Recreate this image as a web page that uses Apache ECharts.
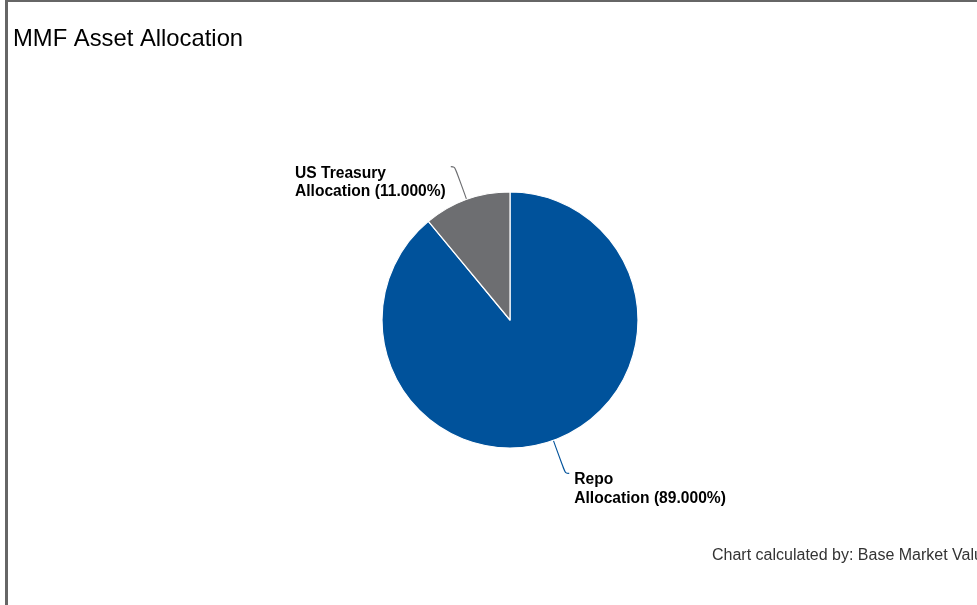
<!DOCTYPE html>
<html>
<head>
<meta charset="utf-8">
<script src="https://cdn.jsdelivr.net/npm/echarts@6/dist/echarts.min.js"></script>
<style>
  html, body { margin: 0; padding: 0; width: 977px; height: 605px; overflow: hidden; background: #fff; }
  #frame { position: absolute; left: 5px; top: 0; width: 1200px; height: 800px; border-left: 3px solid #666; border-top: 2px solid #666; box-sizing: border-box; }
  #chart { position: absolute; left: 0; top: 0; width: 977px; height: 605px; }
</style>
</head>
<body>
<div id="frame"></div>
<div id="chart"></div>
<script>
const titleText = 'MMF Asset Allocation';
const footerText = 'Chart calculated by: Base Market Value';
const categories = ['Repo Allocation', 'US Treasury Allocation'];
const values = [89.0, 11.0];
const colors = ['#00529b', '#6d6e71'];

const chart = echarts.init(document.getElementById('chart'), null, { renderer: 'canvas' });
const font = 'Arial, "Liberation Sans", Helvetica, sans-serif';

chart.setOption({
  animation: false,
  backgroundColor: 'transparent',
  title: {
    text: titleText,
    left: 8,
    top: 22,
    textStyle: { fontFamily: font, fontSize: 23.8, fontWeight: 'normal', color: '#000' }
  },
  graphic: [{
    type: 'text',
    left: 712,
    top: 548,
    style: { text: footerText, fontFamily: font, fontSize: 16, fill: '#333' }
  }],
  series: [{
    type: 'pie',
    center: [510, 320],
    radius: 128,
    startAngle: 90,
    clockwise: true,
    avoidLabelOverlap: false,
    itemStyle: { borderColor: '#fff', borderWidth: 1.2 },
    label: {
      show: true,
      position: 'outside',
      fontFamily: font,
      fontSize: 15.6,
      fontWeight: 'bold',
      color: '#000',
      lineHeight: 18.5,
      formatter: p => p.name.replace(' Allocation', '\nAllocation') + ' (' + p.value.toFixed(3) + '%)'
    },
    labelLine: { show: true, length: 35, length2: 4, smooth: 0.4, lineStyle: { width: 1.1 } },
    labelLayout: function (params) {
      const r = params.labelRect;
      return { align: 'left', x: r.x, dy: 16, labelLinePoints: params.labelLinePoints };
    },
    data: categories.map((c, i) => ({
      name: c,
      value: values[i],
      itemStyle: { color: colors[i] },
      labelLine: { lineStyle: { color: colors[i] } }
    }))
  }]
});
</script>
</body>
</html>
